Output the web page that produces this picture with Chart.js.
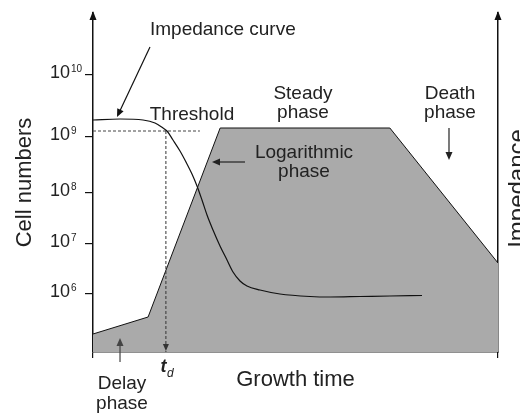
<!DOCTYPE html>
<html>
<head>
<meta charset="utf-8">
<script src="https://cdn.jsdelivr.net/npm/chart.js@4.4.1/dist/chart.umd.min.js"></script>
<style>
  html, body { margin: 0; padding: 0; background: #fff; }
  #wrap { width: 520px; height: 414px; }
</style>
</head>
<body>
<div id="wrap"><canvas id="growth" width="520" height="414"></canvas></div>
<script>
// growth time runs 0..100 (arbitrary units), vertical values are log10 of cell numbers
const cellTime  = [0, 13.6, 31.4, 73.3, 100];
const cellLevel = [5.2, 5.54, 9.32, 9.32, 6.62];

// impedance curve, drawn in the same vertical units
const impTime  = [0, 6.67, 12.35, 15.31, 17.28, 18.27, 19.75, 21.48, 22.96, 24.44, 25.68, 26.91,
                  28.15, 29.63, 31.36, 33.09, 34.57, 36.3, 38.02, 41.23, 46.17, 53.58, 58.52, 65.93, 73.33, 81.23];
const impLevel = [9.48, 9.5, 9.48, 9.42, 9.32, 9.26, 9.08, 8.86, 8.64, 8.4, 8.16, 7.88,
                  7.58, 7.28, 6.96, 6.68, 6.44, 6.26, 6.16, 6.08, 6.0, 5.95, 5.94, 5.95, 5.96, 5.97];

const thresholdLevel = 9.26;
const thresholdEnd = 26.4;
const tdTime = 18.0;

const tickLevels = [6, 7, 8.02, 9.14, 10.38];
const tickExponents = ['6', '7', '8', '9', '10'];
const yMin = 4.84, yMax = 11.62;

const FONT = '"Liberation Sans", Arial, sans-serif';

function toPoints(xs, ys) {
  return xs.map((x, i) => ({ x: x, y: ys[i] }));
}

function arrow(ctx, x1, y1, x2, y2, color) {
  const ang = Math.atan2(y2 - y1, x2 - x1);
  const len = 8, half = 3.5;
  ctx.save();
  ctx.strokeStyle = color;
  ctx.fillStyle = color;
  ctx.lineWidth = 1.2;
  ctx.beginPath();
  ctx.moveTo(x1, y1);
  ctx.lineTo(x2 - Math.cos(ang) * len * 0.8, y2 - Math.sin(ang) * len * 0.8);
  ctx.stroke();
  ctx.beginPath();
  ctx.moveTo(x2, y2);
  ctx.lineTo(x2 - Math.cos(ang) * len - Math.sin(ang) * half, y2 - Math.sin(ang) * len + Math.cos(ang) * half);
  ctx.lineTo(x2 - Math.cos(ang) * len + Math.sin(ang) * half, y2 - Math.sin(ang) * len - Math.cos(ang) * half);
  ctx.closePath();
  ctx.fill();
  ctx.restore();
}

// texts, arrows and the superscript tick labels
const decor = {
  id: 'decor',
  afterDraw(chart) {
    const ctx = chart.ctx;
    const xs = chart.scales.x, ys = chart.scales.y;
    const X = v => xs.getPixelForValue(v);
    const Y = v => ys.getPixelForValue(v);
    const area = chart.chartArea;

    ctx.save();
    ctx.fillStyle = '#222';

    // y tick labels 10^n
    tickLevels.forEach((lv, i) => {
      const y = Y(lv);
      ctx.font = '18px ' + FONT;
      ctx.textAlign = 'right';
      ctx.textBaseline = 'middle';
      ctx.fillText('10', 70, y - 2);
      ctx.font = '10px ' + FONT;
      ctx.textAlign = 'left';
      ctx.textBaseline = 'alphabetic';
      ctx.fillText(tickExponents[i], 71, y - 3);
    });

    // arrow heads on both vertical axes
    [area.left, area.right].forEach(x => {
      ctx.beginPath();
      ctx.moveTo(x, area.top - 2);
      ctx.lineTo(x - 3.5, area.top + 7);
      ctx.lineTo(x + 3.5, area.top + 7);
      ctx.closePath();
      ctx.fillStyle = '#111';
      ctx.fill();
    });

    // right axis title, read bottom to top
    ctx.fillStyle = '#222';
    ctx.save();
    ctx.translate(525, (area.top + area.bottom) / 2 + 6);
    ctx.rotate(-Math.PI / 2);
    ctx.font = '24px ' + FONT;
    ctx.textAlign = 'center';
    ctx.textBaseline = 'alphabetic';
    ctx.fillText('Impedance', 0, 0);
    ctx.restore();

    ctx.font = '19px ' + FONT;
    ctx.textBaseline = 'alphabetic';
    ctx.textAlign = 'left';
    ctx.fillText('Impedance curve', X(14.07), Y(11.18));
    ctx.textAlign = 'center';
    ctx.fillText('Threshold', X(24.44), Y(9.48));
    ctx.fillText('Steady', X(51.85), Y(9.91));
    ctx.fillText('phase', X(51.85), Y(9.52));
    ctx.fillText('Death', X(88.15), Y(9.91));
    ctx.fillText('phase', X(88.15), Y(9.52));
    ctx.fillText('Logarithmic', X(52.1), Y(8.73));
    ctx.fillText('phase', X(52.1), Y(8.34));
    ctx.fillText('Delay', X(7.16), Y(4.11));
    ctx.fillText('phase', X(7.16), Y(3.7));

    // t_d under the axis
    ctx.font = 'italic bold 18px ' + FONT;
    ctx.textAlign = 'right';
    ctx.fillText('t', X(tdTime) + 0.5, Y(4.44));
    ctx.font = 'italic 12px ' + FONT;
    ctx.textAlign = 'left';
    ctx.fillText('d', X(tdTime) + 1, Y(4.34));
    ctx.restore();

    arrow(ctx, X(14.07), Y(10.94), X(5.93), Y(9.54), '#111');
    arrow(ctx, X(87.9), Y(9.32), X(87.9), Y(8.68), '#222');
    arrow(ctx, X(37.53), Y(8.64), X(29.38), Y(8.64), '#222');
    arrow(ctx, X(6.67), Y(4.64), X(6.67), Y(5.12), '#444');

    // arrow head on the dashed t_d line
    const tx = X(tdTime);
    ctx.save();
    ctx.fillStyle = '#333';
    ctx.beginPath();
    ctx.moveTo(tx, area.bottom - 1);
    ctx.lineTo(tx - 3, area.bottom - 8);
    ctx.lineTo(tx + 3, area.bottom - 8);
    ctx.closePath();
    ctx.fill();
    ctx.restore();
  }
};

new Chart(document.getElementById('growth'), {
  type: 'line',
  data: {
    datasets: [
      {
        label: 'Impedance',
        data: toPoints(impTime, impLevel),
        yAxisID: 'y1',
        borderColor: '#111',
        borderWidth: 1.2,
        cubicInterpolationMode: 'monotone',
        pointRadius: 0,
        fill: false,
      },
      {
        label: 'Threshold',
        data: [{ x: 0, y: thresholdLevel }, { x: thresholdEnd, y: thresholdLevel }],
        borderColor: '#444',
        borderWidth: 1,
        borderDash: [3, 2],
        pointRadius: 0,
        fill: false,
      },
      {
        label: 'td',
        data: [{ x: tdTime, y: thresholdLevel }, { x: tdTime, y: yMin }],
        borderColor: '#333',
        borderWidth: 1,
        borderDash: [3, 2],
        pointRadius: 0,
        fill: false,
      },
      {
        label: 'Cell numbers',
        data: toPoints(cellTime, cellLevel),
        borderColor: '#111',
        borderWidth: 1,
        backgroundColor: '#aaaaaa',
        pointRadius: 0,
        tension: 0,
        fill: 'start',
      },
    ],
  },
  options: {
    responsive: false,
    animation: false,
    layout: { padding: { top: 13, left: 0, right: 0, bottom: 0 } },
    plugins: {
      legend: { display: false },
      tooltip: { enabled: false },
    },
    scales: {
      x: {
        type: 'linear',
        min: 0,
        max: 100,
        afterBuildTicks: s => { s.ticks = [{ value: 0 }, { value: 100 }]; },
        afterFit: s => { s.height = 62; },
        ticks: { display: false },
        grid: { drawOnChartArea: false, drawTicks: true, tickLength: 6, color: '#111', lineWidth: 1.2 },
        border: { display: true, color: '#222', width: 1.5 },
        title: {
          display: true,
          text: 'Growth time',
          color: '#222',
          font: { family: FONT, size: 22 },
          padding: { top: 0, bottom: 21 },
        },
      },
      y: {
        type: 'linear',
        position: 'left',
        min: yMin,
        max: yMax,
        afterBuildTicks: s => { s.ticks = tickLevels.map(v => ({ value: v })); },
        afterFit: s => { s.width = 93; },
        ticks: { display: false },
        grid: { drawOnChartArea: false, drawTicks: true, tickLength: 8, color: '#111', lineWidth: 1.2 },
        border: { display: true, color: '#111', width: 1.5 },
        title: {
          display: true,
          text: 'Cell numbers',
          color: '#222',
          font: { family: FONT, size: 22 },
          padding: { top: 12, bottom: 0 },
        },
      },
      y1: {
        type: 'linear',
        position: 'right',
        min: yMin,
        max: yMax,
        afterBuildTicks: s => { s.ticks = []; },
        afterFit: s => { s.width = 22; },
        ticks: { display: false },
        grid: { drawOnChartArea: false, drawTicks: false },
        border: { display: true, color: '#111', width: 1.5 },
      },
    },
  },
  plugins: [decor],
});
</script>
</body>
</html>
